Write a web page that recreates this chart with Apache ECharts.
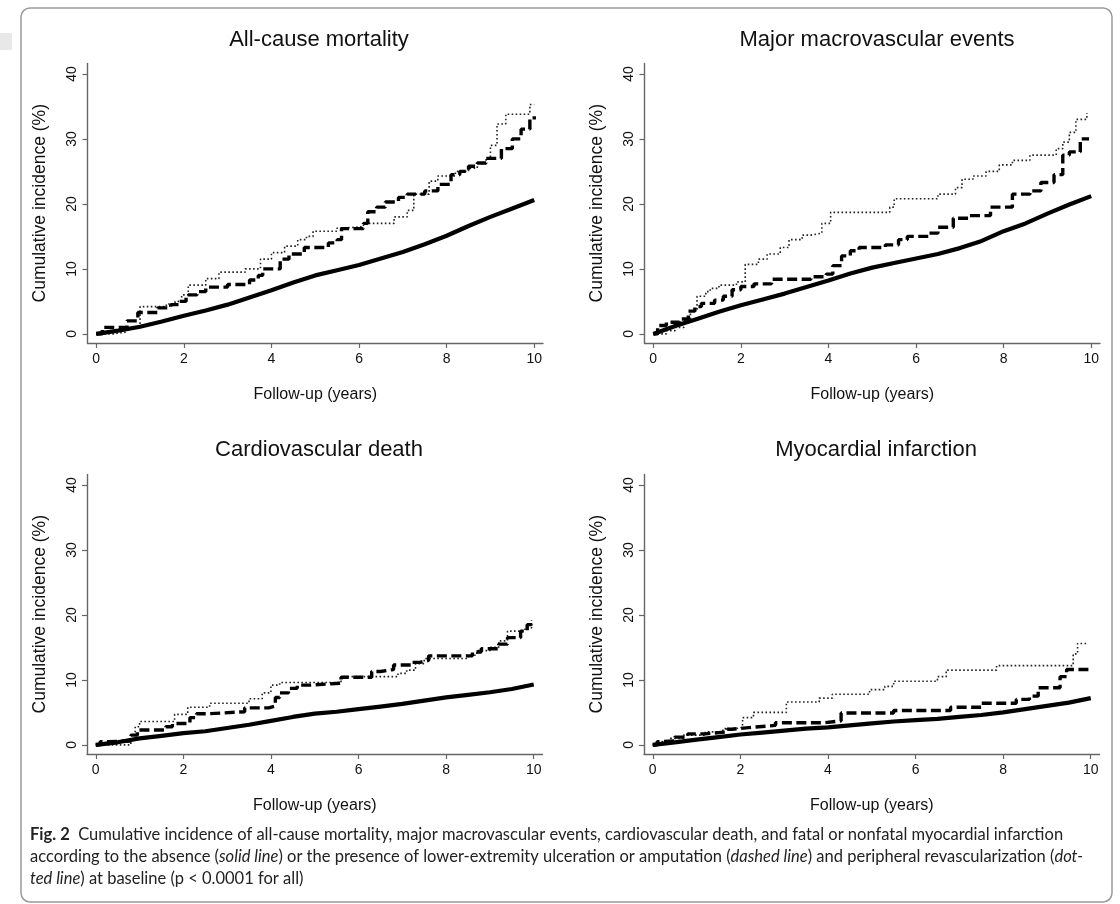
<!DOCTYPE html>
<html>
<head>
<meta charset="utf-8">
<script src="https://cdn.jsdelivr.net/npm/echarts@6/dist/echarts.min.js"></script>
<style>
html,body{margin:0;padding:0;background:#fff;}
#c{width:1120px;height:904px;}
</style>
</head>
<body>
<div id="c"></div>
<script>
// ---------- data ----------
const panelTitles = ['All-cause mortality', 'Major macrovascular events', 'Cardiovascular death', 'Myocardial infarction'];
const xTicks = [0, 2, 4, 6, 8, 10];
const yTicks = [0, 10, 20, 30, 40];
const xName = 'Follow-up (years)';
const yName = 'Cumulative incidence (%)';

// All-cause mortality
const acmSolid = [[0,0],[0.5,0.5],[1,1.1],[1.5,1.9],[2,2.8],[2.5,3.6],[3,4.5],[3.5,5.6],[4,6.7],[4.5,7.9],[5,9.0],[5.5,9.8],[6,10.6],[6.5,11.6],[7,12.6],[7.5,13.8],[8,15.1],[8.5,16.6],[9,18.0],[9.5,19.3],[10,20.6]];
const acmDashed = [[0,0],[0.14,1.0],[0.7,2.0],[0.95,3.3],[1.4,4.0],[1.7,4.5],[1.9,5.0],[2.05,6.0],[2.3,6.5],[2.5,7.2],[3.0,7.6],[3.5,8.3],[3.7,9.0],[3.8,10.0],[4.2,11.5],[4.4,12.3],[4.75,13.3],[5.3,14.0],[5.5,14.5],[5.6,16.2],[6.1,17.0],[6.2,18.8],[6.4,19.5],[6.6,20.3],[6.9,21.0],[7.1,21.5],[7.5,22.0],[7.8,23.0],[8.1,24.5],[8.3,25.0],[8.5,25.8],[8.7,26.3],[8.9,27.0],[9.25,28.5],[9.5,30.0],[9.7,31.5],[9.9,33.0],[10,33.5]];
const acmDotted = [[0,0],[0.4,0.3],[0.7,1.0],[1.0,4.2],[1.6,4.6],[1.8,5.0],[1.95,6.0],[2.1,7.5],[2.5,8.5],[2.8,9.5],[3.4,10.0],[3.75,11.5],[4.0,12.5],[4.3,13.5],[4.6,14.5],[4.8,15.0],[4.95,15.8],[5.5,16.3],[5.7,16.5],[6.1,17.0],[6.8,18.0],[7.1,19.0],[7.25,21.5],[7.6,23.5],[7.8,24.3],[8.2,25.0],[8.5,25.5],[8.7,26.2],[8.9,27.0],[9.0,29.0],[9.15,32.3],[9.35,33.8],[9.9,35.3],[10,35.3]];

// Major macrovascular events
const mmeSolid = [[0,0],[0.5,1.2],[1,2.3],[1.5,3.4],[2,4.4],[2.5,5.3],[3,6.2],[3.5,7.2],[4,8.2],[4.5,9.3],[5,10.2],[5.5,10.9],[6,11.6],[6.5,12.3],[7,13.2],[7.5,14.3],[8,15.8],[8.5,17.0],[9,18.5],[9.5,19.9],[10,21.2]];
const mmeDashed = [[0,0],[0.1,1.3],[0.3,1.8],[0.6,2.3],[0.8,3.5],[0.95,4.2],[1.1,4.7],[1.4,5.2],[1.6,5.8],[1.8,6.8],[2.0,7.3],[2.3,7.7],[2.7,8.4],[3.6,8.8],[3.95,9.2],[4.1,10.5],[4.3,12.0],[4.5,12.8],[4.7,13.3],[5.3,13.7],[5.6,14.5],[5.8,15.0],[6.3,15.5],[6.5,16.4],[6.85,17.8],[7.2,18.2],[7.7,19.5],[8.2,21.5],[8.6,22.0],[8.85,23.3],[9.15,24.5],[9.35,27.5],[9.5,28.0],[9.75,30.0],[9.95,30.0]];
const mmeDotted = [[0,0],[0.3,0.5],[0.5,1.0],[0.7,2.0],[0.85,3.5],[1.0,5.8],[1.2,6.5],[1.3,7.0],[1.5,7.5],[1.9,8.0],[2.1,10.7],[2.4,11.5],[2.6,12.3],[2.9,13.3],[3.1,14.5],[3.4,15.2],[3.6,15.5],[3.85,17.0],[4.05,18.7],[5.4,19.5],[5.5,20.8],[6.5,21.5],[6.9,22.5],[7.05,23.8],[7.3,24.3],[7.6,25.0],[7.9,26.0],[8.2,26.7],[8.6,27.5],[9.2,28.5],[9.35,29.5],[9.5,31.0],[9.65,33.0],[9.9,34.0]];

// Cardiovascular death
const cvdSolid = [[0,0],[0.5,0.4],[1,1.0],[1.5,1.4],[2,1.8],[2.5,2.1],[3,2.6],[3.5,3.1],[4,3.7],[4.5,4.3],[5,4.8],[5.5,5.1],[6,5.5],[6.5,5.9],[7,6.3],[7.5,6.8],[8,7.3],[8.5,7.7],[9,8.1],[9.5,8.6],[10,9.3]];
const cvdDashed = [[0,0],[0.1,0.5],[0.3,0.6],[0.8,1.5],[0.95,2.3],[1.6,2.8],[1.75,3.3],[2.15,4.2],[2.3,4.8],[2.6,5.1],[3.4,5.7],[3.95,6.0],[4.1,7.3],[4.2,8.0],[4.4,8.7],[4.6,9.2],[4.9,9.5],[5.6,10.4],[6.3,11.3],[6.5,11.6],[6.8,12.3],[7.2,12.7],[7.4,13.0],[7.6,13.7],[8.6,14.3],[8.8,14.8],[9.2,15.5],[9.4,16.5],[9.7,17.5],[9.85,18.5],[9.95,19.2]];
const cvdDotted = [[0,0],[0.8,1.5],[0.9,2.8],[1.0,3.6],[1.8,4.7],[2.1,5.8],[2.6,6.4],[3.5,7.1],[3.8,8.0],[4.0,9.2],[4.2,9.6],[5.6,10.5],[6.9,11.0],[7.1,11.5],[7.3,12.5],[7.5,13.3],[8.5,13.8],[8.7,14.5],[9.0,15.0],[9.2,16.0],[9.4,17.5],[9.8,18.0],[9.95,19.2]];

// Myocardial infarction
const miSolid = [[0,0],[0.5,0.4],[1,0.8],[1.5,1.2],[2,1.6],[2.5,1.9],[3,2.2],[3.5,2.5],[4,2.7],[4.5,3.0],[5,3.3],[5.5,3.6],[6,3.8],[6.5,4.0],[7,4.3],[7.5,4.6],[8,5.0],[8.5,5.5],[9,6.0],[9.5,6.5],[10,7.2]];
const miDashed = [[0,0],[0.1,0.5],[0.2,0.6],[0.5,1.2],[0.8,1.7],[1.2,2.0],[1.7,2.4],[1.8,2.7],[2.25,3.0],[2.8,3.4],[3.9,3.7],[4.3,4.9],[5.5,5.3],[6.8,5.8],[7.5,6.4],[8.3,7.0],[8.6,7.5],[8.8,8.8],[9.3,10.5],[9.45,11.6],[9.95,11.6]];
const miDotted = [[0,0],[0.1,0.5],[0.4,1.0],[0.7,1.5],[1.2,2.0],[1.6,2.5],[1.9,2.7],[2.05,4.2],[2.3,5.0],[3.05,6.6],[3.8,7.2],[4.1,7.8],[4.95,8.5],[5.3,9.0],[5.5,9.8],[6.5,10.5],[6.7,11.5],[7.85,12.2],[9.6,14.0],[9.7,15.6],[9.95,15.6]];

const panelData = [
  [acmSolid, acmDashed, acmDotted],
  [mmeSolid, mmeDashed, mmeDotted],
  [cvdSolid, cvdDashed, cvdDotted],
  [miSolid, miDashed, miDotted]
];

// ---------- layout / style ----------
const FONT = 'Liberation Sans, Arial, Helvetica, sans-serif';
const grids = [
  {left: 87.5, top: 63.5, width: 455.5, height: 279.5},
  {left: 644.5, top: 63.5, width: 455.5, height: 279.5},
  {left: 87, top: 474.5, width: 455.5, height: 279.5},
  {left: 644, top: 474.5, width: 455.5, height: 279.5}
];
const titlePos = [[314, 24], [872, 24], [314, 434], [871, 434]];
const axisColor = '#666666';

const option = {
  animation: false,
  backgroundColor: '#ffffff',
  title: panelTitles.map((t, i) => ({
    text: t, left: titlePos[i][0], top: titlePos[i][1], textAlign: 'center',
    textStyle: {fontSize: 22, fontWeight: 'normal', color: '#111', fontFamily: FONT}
  })),
  grid: grids.map(g => Object.assign({containLabel: false}, g)),
  xAxis: grids.map((g, i) => ({
    type: 'value', gridIndex: i, min: -0.2, max: 10.2,
    name: xName, nameLocation: 'middle', nameGap: 44,
    nameTextStyle: {fontSize: 16, color: '#111', fontFamily: FONT},
    axisLine: {show: true, onZero: false, lineStyle: {color: axisColor, width: 1.4}},
    axisTick: {show: true, length: 5, customValues: xTicks, lineStyle: {color: axisColor, width: 1.2}},
    axisLabel: {customValues: xTicks, margin: 9, fontSize: 14, color: '#111', fontFamily: FONT},
    splitLine: {show: false}
  })),
  yAxis: grids.map((g, i) => ({
    type: 'value', gridIndex: i, min: -1.4, max: 41.6,
    name: yName, nameLocation: 'middle', nameGap: 38,
    nameTextStyle: {fontSize: 17.5, color: '#111', fontFamily: FONT},
    axisLine: {show: true, onZero: false, lineStyle: {color: axisColor, width: 1.4}},
    axisTick: {show: true, length: 5, customValues: yTicks, lineStyle: {color: axisColor, width: 1.2}},
    axisLabel: {customValues: yTicks, rotate: 90, margin: 8, fontSize: 14, color: '#111', fontFamily: FONT},
    splitLine: {show: false}
  })),
  series: [],
  graphic: [
    {type: 'rect', shape: {x: 0, y: 33, width: 12, height: 17}, style: {fill: '#e8e8e8'}, silent: true},
    {type: 'rect', shape: {x: 21, y: 8, width: 1091, height: 894, r: 9}, style: {fill: 'none', stroke: '#9a9a9a', lineWidth: 1.5}, silent: true}
  ]
};

const styles = [
  {width: 4.2, type: 'solid', color: '#000'},
  {width: 3.4, type: [10, 4.5], color: '#000'},
  {width: 1.6, type: [1.6, 2.4], color: '#222'}
];
panelData.forEach((arrs, i) => {
  arrs.forEach((d, k) => {
    option.series.push({
      type: 'line', xAxisIndex: i, yAxisIndex: i, data: d,
      step: k === 0 ? false : 'end',
      showSymbol: false, symbol: 'none', z: 3 - k,
      lineStyle: styles[k]
    });
  });
});

// caption
const capFont = 'Lato, "Open Sans", sans-serif';
const capSize = 16.5;
const rich = {
  b: {fontWeight: 'bold', fontSize: capSize, fontFamily: capFont, fill: '#222'},
  i: {fontStyle: 'italic', fontSize: capSize, fontFamily: capFont, fill: '#222'}
};
const captionLines = [
  '{b|Fig. 2}  Cumulative incidence of all-cause mortality, major macrovascular events, cardiovascular death, and fatal or nonfatal myocardial infarction',
  'according to the absence ({i|solid line}) or the presence of lower-extremity ulceration or amputation ({i|dashed line}) and peripheral revascularization ({i|dot-}',
  '{i|ted line}) at baseline (p < 0.0001 for all)'
];
const capY = [835, 857, 879];
captionLines.forEach((t, k) => {
  option.graphic.push({
    type: 'text', x: 30, y: capY[k], silent: true,
    style: {text: t, fontSize: capSize, fontFamily: capFont, fill: '#222', verticalAlign: 'middle', rich: rich}
  });
});

const chart = echarts.init(document.getElementById('c'), null, {renderer: 'canvas'});
chart.setOption(option);
</script>
</body>
</html>
